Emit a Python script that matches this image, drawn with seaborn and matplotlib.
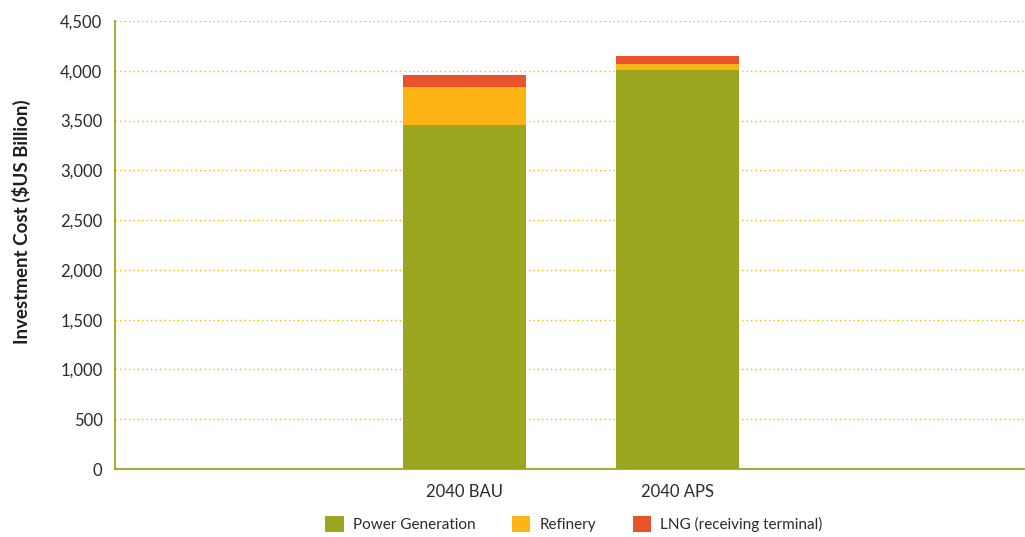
import matplotlib
matplotlib.use("Agg")
import matplotlib.pyplot as plt
import seaborn as sns
import pandas as pd
import numpy as np
from matplotlib.patches import Patch

# Investment cost by scenario ($US billion)
scenarios = ["2040 BAU", "2040 APS"]
power_generation = [3455, 4005]
refinery = [380, 60]
lng_terminal = [120, 80]

series_names = ["Power Generation", "Refinery", "LNG (receiving terminal)"]
series_colors = ["#9ba61f", "#fdb515", "#e8532b"]
y_ticks = [0, 500, 1000, 1500, 2000, 2500, 3000, 3500, 4000, 4500]

sns.set_theme(style="white")
plt.rcParams["font.family"] = ["Lato", "DejaVu Sans"]

fig = plt.figure(figsize=(10.25, 5.37), dpi=100)
ax = fig.add_axes([115 / 1025, (537 - 469) / 537, (1024 - 115) / 1025, (469 - 21) / 537])

# Cumulative stacks, drawn from the top segment down so each layer shows
stacks = np.cumsum(np.array([power_generation, refinery, lng_terminal]), axis=0)
df = pd.DataFrame({"x": [0, 1]})
for level in range(2, -1, -1):
    sns.barplot(x=df["x"], y=stacks[level], color=series_colors[level],
                saturation=1, width=0.577, native_scale=True, ax=ax,
                edgecolor="none", linewidth=0, zorder=3)

ax.set_xlim(-1.641, 2.627)
ax.set_ylim(0, 4500)
ax.set_xticks([0, 1])
ax.set_xticklabels(scenarios)
ax.set_yticks(y_ticks)
ax.set_yticklabels([f"{v:,}" for v in y_ticks])
ax.tick_params(axis="both", length=0, labelsize=12, colors="#2b2b2b")
ax.tick_params(axis="y", pad=9)
ax.tick_params(axis="x", pad=11)
ax.set_xlabel("")
ax.set_ylabel("Investment Cost ($US Billion)", fontsize=13.5, fontweight="bold",
              color="#1e1e1e")
ax.yaxis.set_label_coords(-0.0924, 0.551)

ax.yaxis.grid(True, color="#fdb515", linestyle=(0, (1, 2.2)), linewidth=1.0, zorder=0)
ax.xaxis.grid(False)
for side in ["top", "right"]:
    ax.spines[side].set_visible(False)
for side in ["left", "bottom"]:
    ax.spines[side].set_color("#9ba61f")
    ax.spines[side].set_linewidth(1.3)

handles = [Patch(facecolor=c, edgecolor="none") for c in series_colors]
fig.legend(handles, series_names, loc="center", bbox_to_anchor=(574 / 1025, (537 - 524) / 537),
           ncol=3, frameon=False, fontsize=11, handlelength=1.2, handleheight=1.2,
           handletextpad=0.6, columnspacing=2.4, labelcolor="#2b2b2b")

fig.savefig("out.png", dpi=100)
